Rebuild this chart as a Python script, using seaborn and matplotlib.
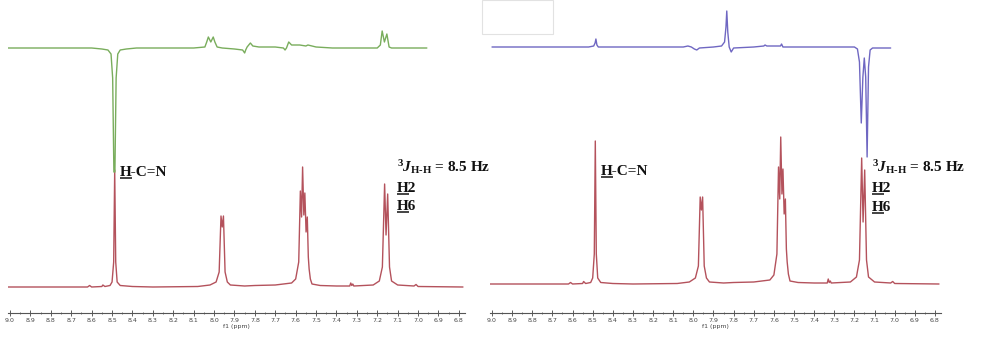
import numpy as np
import pandas as pd
import matplotlib
matplotlib.use("Agg")
import matplotlib.pyplot as plt
import seaborn as sns
from matplotlib.patches import Rectangle

# Espectro 1H (rojo), mismo desplazamiento para ambos paneles
red_ppm = [9.02, 8.62, 8.61, 8.60, 8.55, 8.545, 8.535, 8.51, 8.50, 8.492,
           8.487, 8.482, 8.475, 8.46, 8.40, 8.30, 8.08, 8.02, 7.99, 7.975,
           7.966, 7.960, 7.954, 7.946, 7.935, 7.92, 7.85, 7.80, 7.70, 7.62,
           7.60, 7.585, 7.577, 7.571, 7.566, 7.560, 7.555, 7.549, 7.543, 7.538,
           7.534, 7.528, 7.52, 7.48, 7.40, 7.335, 7.33, 7.325, 7.32, 7.315,
           7.22, 7.19, 7.175, 7.164, 7.157, 7.149, 7.140, 7.13, 7.10, 7.02,
           7.01, 7.00, 6.78]
red_left = [0, 0, 1.5, 0, 0.5, 2, 0.5, 1.5, 5, 25,
            117, 25, 5, 1.5, 0.5, 0, 0.5, 2, 5, 15,
            71, 60, 71, 15, 5, 2, 1, 1.5, 2, 4,
            8, 25, 96, 70, 120, 72, 94, 55, 70, 30,
            18, 8, 3, 1.5, 1, 1, 4, 1.5, 3, 1,
            2, 6, 20, 103, 52, 93, 20, 6, 2, 1,
            2.5, 0.5, 0]
red_right = [0, 0, 1.5, 0, 0.5, 2.5, 0.5, 1.5, 6, 30,
             143, 30, 6, 1.5, 0.5, 0, 0.5, 2, 6, 18,
             87, 74, 87, 18, 6, 2, 1, 1.5, 2, 4,
             9, 30, 117, 85, 147, 90, 115, 70, 85, 35,
             22, 10, 3, 1.5, 1, 1, 5, 1.5, 3, 1,
             2, 7, 24, 126, 62, 114, 24, 7, 2, 1,
             2.5, 0.5, 0]

# Espectro superior izquierdo (verde)
green_ppm = [9.02, 8.60, 8.55, 8.52, 8.505, 8.497, 8.491, 8.486, 8.480, 8.472,
             8.46, 8.43, 8.38, 8.10, 8.045, 8.036, 8.028, 8.016, 8.004, 7.996,
             7.985, 7.96, 7.90, 7.86, 7.850, 7.845, 7.838, 7.822, 7.81, 7.78,
             7.70, 7.66, 7.652, 7.645, 7.634, 7.62, 7.58, 7.55, 7.54, 7.50,
             7.42, 7.20, 7.185, 7.176, 7.165, 7.153, 7.142, 7.13, 6.957]
green_int = [0, 0, -1, -2, -6, -30, -124, -124, -30, -6,
             -2, -1, 0, 0, 1, 6, 11, 6, 11, 6,
             1, 0, -1, -2, -5, -2, 1, 5, 2, 1,
             1, 0, -2, 0, 6, 3, 3, 2, 3, 1,
             0, 0, 3, 17, 6, 14, 1, 0, 0]

# Espectro superior derecho (morado)
purple_ppm = [9.0, 8.52, 8.495, 8.488, 8.484, 8.479, 8.472, 8.45, 8.05, 8.027,
              8.01, 7.995, 7.983, 7.97, 7.90, 7.86, 7.845, 7.838, 7.834, 7.829,
              7.822, 7.812, 7.80, 7.70, 7.65, 7.644, 7.635, 7.60, 7.567, 7.562,
              7.555, 7.45, 7.20, 7.185, 7.175, 7.166, 7.158, 7.151, 7.144, 7.137,
              7.130, 7.122, 7.11, 7.06, 7.02]
purple_int = [0, 0, 1, 4, 8, 2, 0, 0, 0, 1,
              0, -2, -3, -1, 0, 1, 5, 20, 36, 15,
              0, -5, -1, 0, 1, 2, 1, 1, 1, 3,
              0, 0, 0, -2, -15, -76, -30, -11, -30, -110,
              -20, -3, -1, -1, -1]

tick_major = np.round(np.arange(6.8, 9.0001, 0.1), 1)
tick_minor = np.round(np.arange(6.85, 9.0, 0.1), 2)

sns.set_theme(style="white")
plt.rcParams['font.family'] = ['DejaVu Sans']
plt.rcParams['mathtext.fontset'] = 'custom'
plt.rcParams['mathtext.rm'] = 'Liberation Serif:bold'
plt.rcParams['mathtext.bf'] = 'Liberation Serif:bold'
plt.rcParams['mathtext.it'] = 'Liberation Serif:italic:bold'

RED = '#b4525c'
GREEN = '#79ad5c'
PURPLE = '#6f67c2'
TXT = dict(fontfamily='Liberation Serif', fontweight='bold', fontsize=11,
           color='#111111', va='baseline', ha='left')

fig = plt.figure(figsize=(9.99, 3.51), dpi=100)
ax_l = fig.add_axes([8 / 999, 38 / 351, 457 / 999, 313 / 351])
ax_r = fig.add_axes([490 / 999, 38 / 351, 451 / 999, 313 / 351])

underlined = []


def draw_trace(ax, ppm, vals, base, color):
    df = pd.DataFrame({'ppm': ppm, 'y': np.array(vals, dtype=float) + base})
    sns.lineplot(data=df, x='ppm', y='y', sort=False, estimator=None,
                 color=color, lw=1.0, ax=ax, legend=False)


def label_panel(ax, x_hcn, y_hcn, x_j, y_j):
    ax.text(x_hcn, y_hcn, 'H-C=N', **TXT)
    underlined.append((ax, x_hcn, y_hcn))
    ax.text(x_j, y_j[0], '$^{3}\\mathit{J}_{\\mathrm{H\u2010H}}$ = 8.5 Hz', **TXT)
    ax.text(x_j, y_j[1], 'H2', **TXT)
    ax.text(x_j, y_j[2], 'H6', **TXT)
    underlined.append((ax, x_j, y_j[1]))
    underlined.append((ax, x_j, y_j[2]))


def style_axis(ax, xmax, xmin):
    ax.set_xlim(xmax, xmin)
    ax.set_ylim(0, 313)
    ax.set_xticks(tick_major)
    ax.set_xticklabels([f'{t:.1f}' for t in tick_major])
    ax.set_xticks(tick_minor, minor=True)
    ax.tick_params(axis='x', which='major', direction='inout', length=4,
                   width=0.6, labelsize=4.5, pad=1.5, colors='#444444',
                   bottom=True)
    ax.tick_params(axis='x', which='minor', direction='inout', length=2,
                   width=0.5, bottom=True, color='#444444')
    ax.set_yticks([])
    ax.set_ylabel('')
    ax.set_xlabel('f1 (ppm)', fontsize=4.5, labelpad=0.5, color='#444444')
    for s in ['top', 'left', 'right']:
        ax.spines[s].set_visible(False)
    ax.spines['bottom'].set_color('#555555')
    ax.spines['bottom'].set_linewidth(0.8)
    ax.set_facecolor('none')


# panel izquierdo
draw_trace(ax_l, red_ppm, red_left, 26, RED)
draw_trace(ax_l, green_ppm, green_int, 265, GREEN)
style_axis(ax_l, 9.01, 6.77)
label_panel(ax_l, 8.461, 137, 7.103, (141, 121, 103))

# panel derecho
draw_trace(ax_r, red_ppm, red_right, 29, RED)
draw_trace(ax_r, purple_ppm, purple_int, 266, PURPLE)
style_axis(ax_r, 9.01, 6.77)
label_panel(ax_r, 8.459, 138, 7.113, (141, 121, 102))

# subrayado de la H (mathtext no tiene \underline)
fig.canvas.draw()
renderer = fig.canvas.get_renderer()
for ax, x, y in underlined:
    tmp = ax.text(x, y, 'H', **TXT)
    bb = tmp.get_window_extent(renderer)
    tmp.remove()
    x0, y0 = ax.transData.transform((x, y))
    inv = ax.transData.inverted()
    p0 = inv.transform((bb.x0, y0 - 2.2))
    p1 = inv.transform((bb.x1, y0 - 2.2))
    ax.plot([p0[0], p1[0]], [p0[1], p1[1]], color='#111111', lw=1.1,
            solid_capstyle='butt')

fig.patches.append(Rectangle((482 / 999, 317 / 351), 71 / 999, 34 / 351,
                             transform=fig.transFigure, facecolor='white',
                             edgecolor='#e2e2e2', lw=0.8, zorder=0))

fig.savefig('out.png', dpi=100)
